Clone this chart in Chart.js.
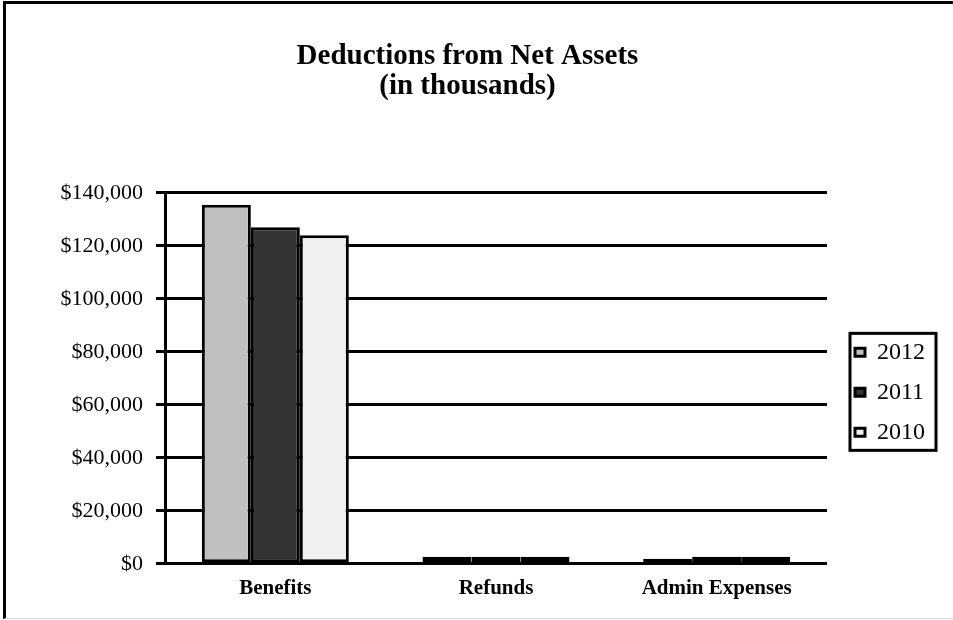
<!DOCTYPE html>
<html>
<head>
<meta charset="utf-8">
<script src="https://cdn.jsdelivr.net/npm/chart.js@4.4.1/dist/chart.umd.min.js"></script>
<style>
  html, body { margin: 0; padding: 0; background: #fff; }
  #wrap { position: relative; width: 953px; height: 620px; }
  #frame {
    position: absolute; left: 3px; top: 1px; width: 950px; height: 618px;
    box-sizing: border-box; border-left: 3px solid #000; border-top: 3px solid #000;
    border-bottom: 1px solid #ddd; pointer-events: none;
  }
</style>
</head>
<body>
<div id="wrap">
  <canvas id="chart"></canvas>
  <div id="frame"></div>
</div>
<script>
// values in thousands of dollars
var categories = ["Benefits", "Refunds", "Admin Expenses"];
var years = ["2012", "2011", "2010"];
var values2012 = [135500, 2700, 1900];
var values2011 = [127000, 2700, 2700];
var values2010 = [124000, 2700, 2700];
var barColors = ["#c0c0c0", "#333333", "#f0f0f0"];
var yTicks = [0, 20000, 40000, 60000, 80000, 100000, 120000, 140000];

var serif = "'Liberation Serif', 'Times New Roman', serif";

// box around the legend, like the excel one
var legendBorder = {
  id: "legendBorder",
  afterDraw: function (chart) {
    var lg = chart.legend;
    if (!lg || !lg.legendHitBoxes || !lg.legendHitBoxes.length) return;
    var hb = lg.legendHitBoxes;
    var first = hb[0], last = hb[hb.length - 1];
    var x1 = first.left - 5, x2 = first.left + first.width + 11;
    var y1 = first.top - 7, y2 = last.top + last.height + 6;
    var ctx = chart.ctx;
    ctx.save();
    ctx.lineWidth = 3;
    ctx.strokeStyle = "#000";
    ctx.strokeRect(x1, y1, x2 - x1, y2 - y1);
    ctx.restore();
  }
};

function makeSet(i, data) {
  return {
    label: years[i],
    data: data,
    backgroundColor: barColors[i],
    borderColor: "#000",
    borderWidth: 3,
    borderSkipped: false,
    categoryPercentage: 0.666,
    barPercentage: 1.0
  };
}

var ctx = document.getElementById("chart").getContext("2d");
var myChart = new Chart(ctx, {
  type: "bar",
  data: {
    labels: categories,
    datasets: [makeSet(0, values2012), makeSet(1, values2011), makeSet(2, values2010)]
  },
  options: {
    responsive: true,
    maintainAspectRatio: false,
    animation: false,
    layout: { padding: { left: 0, right: 18, top: 0, bottom: 7 } },
    plugins: {
      tooltip: { enabled: false },
      title: {
        display: true,
        text: ["Deductions from Net Assets", "(in thousands)"],
        color: "#000",
        font: { family: serif, size: 29, weight: "bold", lineHeight: 1.05 },
        padding: { top: 41, bottom: 91 }
      },
      legend: {
        display: true,
        position: "right",
        fullSize: false,
        title: { display: true, text: "", padding: 0, font: { size: 20, lineHeight: 1.4 } },
        labels: {
          color: "#000",
          boxWidth: 10,
          boxHeight: 8,
          padding: 16,
          font: { family: serif, size: 24 }
        }
      }
    },
    scales: {
      x: {
        grid: { display: false, drawTicks: false },
        border: { display: false },
        ticks: {
          color: "#000",
          padding: 12,
          font: { family: serif, size: 21, weight: "bold" }
        }
      },
      y: {
        min: 0,
        max: 140000,
        afterFit: function (scale) { scale.width = 165; },
        afterBuildTicks: function (scale) {
          scale.ticks = yTicks.map(function (v) { return { value: v }; });
        },
        grid: { color: "#000", lineWidth: 3, drawTicks: true, tickLength: 9 },
        border: { display: true, color: "#000", width: 3 },
        ticks: {
          color: "#000",
          padding: 13,
          font: { family: serif, size: 22 },
          callback: function (v) { return "$" + Number(v).toLocaleString("en-US"); }
        }
      },
      // empty spacer between plot and legend
      gap: {
        type: "linear",
        position: "right",
        display: false,
        afterFit: function (scale) { scale.width = 12; }
      }
    }
  },
  plugins: [legendBorder]
});
</script>
</body>
</html>
